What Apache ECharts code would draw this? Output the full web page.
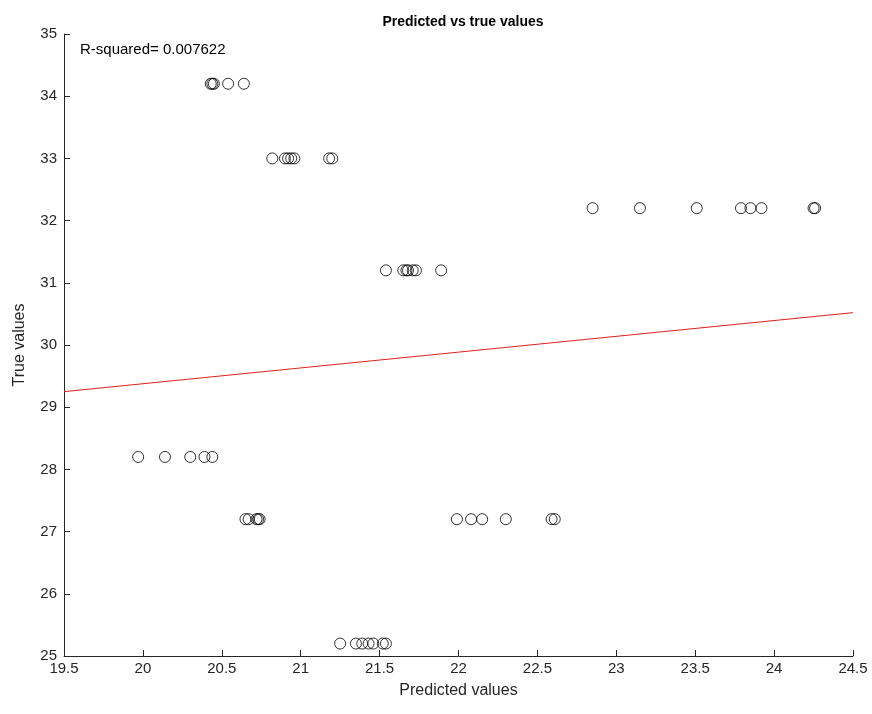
<!DOCTYPE html>
<html style="height: 100%">
<head>
    <meta charset="utf-8">
</head>
<body style="height: 100%; margin: 0; background: #fff">
<div id="container" style="width: 872px; height: 714px"></div>
<script type="text/javascript" src="https://cdn.jsdelivr.net/npm/echarts@6/dist/echarts.min.js"></script>
<script type="text/javascript">
    // true value of each row, and the predicted values read for that row
    var rowTrue = [34.2, 33, 32.2, 31.2, 28.2, 27.2, 25.2];
    var rowPredicted = [
        [20.43, 20.44, 20.45, 20.54, 20.64],
        [20.82, 20.9, 20.92, 20.94, 20.96, 21.18, 21.2],
        [22.85, 23.15, 23.51, 23.79, 23.85, 23.92, 24.25, 24.26],
        [21.54, 21.65, 21.67, 21.68, 21.71, 21.73, 21.89],
        [19.97, 20.14, 20.3, 20.39, 20.44],
        [20.65, 20.67, 20.72, 20.73, 20.74, 21.99, 22.08, 22.15, 22.3, 22.59, 22.61],
        [21.25, 21.35, 21.39, 21.43, 21.46, 21.52, 21.54]
    ];
    // fitted line end points
    var fitX = [19.5, 24.5];
    var fitY = [29.25, 30.52];
    var rSquared = '0.007622';

    var points = [];
    for (var i = 0; i < rowTrue.length; i++) {
        for (var j = 0; j < rowPredicted[i].length; j++) {
            points.push([rowPredicted[i][j], rowTrue[i]]);
        }
    }
    var fitLine = [[fitX[0], fitY[0]], [fitX[1], fitY[1]]];

    var font = '"Liberation Sans", Arial, sans-serif';
    var axisColor = '#262626';

    var myChart = echarts.init(document.getElementById('container'));
    var option = {
        animation: false,
        backgroundColor: '#fff',
        title: {
            text: 'Predicted vs true values',
            left: 458,
            textAlign: 'center',
            top: 10,
            textStyle: {fontFamily: font, fontSize: 14, fontWeight: 'bold', color: '#000'}
        },
        graphic: [{
            type: 'text',
            left: 80,
            top: 42,
            style: {text: 'R-squared= ' + rSquared, font: '15px ' + font, fill: '#000'}
        }],
        grid: {left: 64, right: 19, top: 34, bottom: 58},
        xAxis: {
            type: 'value',
            min: 19.5,
            max: 24.5,
            interval: 0.5,
            name: 'Predicted values',
            nameLocation: 'middle',
            nameGap: 27,
            nameTextStyle: {fontFamily: font, fontSize: 16, color: axisColor},
            axisLine: {onZero: false, lineStyle: {color: axisColor, width: 1}},
            axisTick: {inside: true, length: 6, lineStyle: {color: axisColor}},
            axisLabel: {fontFamily: font, fontSize: 15, color: axisColor, margin: 5},
            splitLine: {show: false}
        },
        yAxis: {
            type: 'value',
            min: 25,
            max: 35,
            interval: 1,
            name: 'True values',
            nameLocation: 'middle',
            nameGap: 36,
            nameTextStyle: {fontFamily: font, fontSize: 16, color: axisColor},
            axisLine: {show: true, onZero: false, lineStyle: {color: axisColor, width: 1}},
            axisTick: {show: true, inside: true, length: 6, lineStyle: {color: axisColor}},
            axisLabel: {fontFamily: font, fontSize: 15, color: axisColor, margin: 7},
            splitLine: {show: false}
        },
        series: [
            {
                type: 'scatter',
                data: points,
                symbol: 'circle',
                symbolSize: 11,
                itemStyle: {color: 'rgba(0,0,0,0)', borderColor: '#000', borderWidth: 1, opacity: 0.8}
            },
            {
                type: 'line',
                data: fitLine,
                symbol: 'none',
                lineStyle: {color: '#e02020', width: 1}
            }
        ]
    };
    myChart.setOption(option);
</script>
</body>
</html>
